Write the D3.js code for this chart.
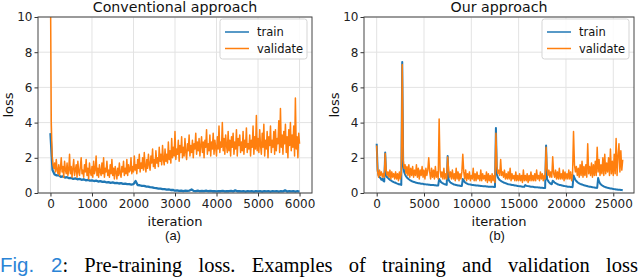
<!DOCTYPE html>
<html><head><meta charset="utf-8">
<script src="https://cdn.jsdelivr.net/npm/d3@7"></script>
<style>
html,body{margin:0;padding:0;background:#fff;}
svg{display:block;}
</style></head><body>
<svg id="c" width="640" height="278"></svg>
<script>
// ---------- data ----------
const panelTitles = ["Conventional approach", "Our approach"];
const panelLetters = ["(a)", "(b)"];
const seriesNames = ["train", "validate"];
const yTicks = [0, 2, 4, 6, 8, 10];
const xTicksA = [0, 1000, 2000, 3000, 4000, 5000, 6000];
const xTicksB = [0, 5000, 10000, 15000, 20000, 25000];
const axisLabelX = "iteration";
const axisLabelY = "loss";

// (a) conventional: train sampled every 50 iterations
const stepTrainA = 50;
const trainA = [
  3.4, 1.3, 1.05, 1.0, 1.0, 0.92, 0.95, 0.88, 0.9, 0.84,
  0.86, 0.8, 0.83, 0.78, 0.8, 0.75, 0.78, 0.72, 0.75, 0.7,
  0.72, 0.68, 0.7, 0.65, 0.68, 0.63, 0.65, 0.6, 0.62, 0.58,
  0.6, 0.56, 0.58, 0.54, 0.56, 0.52, 0.53, 0.5, 0.51, 0.48,
  0.5, 0.68, 0.45, 0.44, 0.41, 0.4, 0.37, 0.36, 0.33, 0.32,
  0.29, 0.28, 0.25, 0.25, 0.22, 0.22, 0.19, 0.2, 0.17, 0.18,
  0.13, 0.15, 0.12, 0.14, 0.11, 0.13, 0.12, 0.14, 0.2, 0.12,
  0.11, 0.13, 0.1, 0.12, 0.11, 0.13, 0.1, 0.12, 0.1, 0.11,
  0.09, 0.11, 0.1, 0.12, 0.09, 0.11, 0.1, 0.12, 0.09, 0.15,
  0.1, 0.11, 0.09, 0.1, 0.08, 0.11, 0.09, 0.1, 0.08, 0.11,
  0.09, 0.1, 0.08, 0.11, 0.09, 0.1, 0.08, 0.1, 0.09, 0.11,
  0.08, 0.1, 0.09, 0.15, 0.08, 0.1, 0.09, 0.11, 0.08, 0.1,
  0.08
];
// (a) conventional: validate sampled every 20 iterations
const stepValA = 20;
const validateA = [
  12, 4.0, 2.2, 1.6, 1.4, 1.7, 1.2, 1.9, 1.3, 1.1,
  1.6, 1.0, 1.4, 2.0, 1.2, 1.5, 0.9, 1.8, 1.3, 1.1,
  1.7, 1.0, 1.3, 2.2, 1.1, 1.5, 0.9, 1.4, 1.9, 1.0,
  1.3, 1.6, 0.9, 1.8, 1.2, 1.0, 1.5, 2.0, 1.1, 1.3,
  0.9, 1.6, 1.2, 1.9, 1.0, 1.4, 0.8, 1.7, 1.2, 1.0,
  1.5, 0.9, 1.8, 1.1, 1.3, 2.1, 1.0, 1.4, 0.9, 1.6,
  1.2, 1.0, 1.7, 1.1, 2.0, 0.9, 1.4, 1.2, 1.8, 1.0,
  1.3, 0.9, 1.6, 1.1, 1.9, 1.0, 1.4, 0.8, 1.5, 1.2,
  0.8, 1.4, 1.0, 1.7, 1.1, 0.9, 1.5, 1.2, 1.8, 1.0,
  1.4, 1.1, 1.9, 1.0, 1.6, 1.2, 1.3, 2.0, 1.1, 1.5,
  1.2, 2.1, 1.3, 1.6, 1.1, 1.9, 1.4, 2.2, 1.2, 1.7,
  1.4, 2.0, 1.3, 2.3, 1.5, 1.2, 1.9, 1.4, 2.2, 1.6,
  1.3, 2.1, 1.7, 2.5, 1.5, 1.9, 1.4, 2.4, 1.7, 2.0,
  1.5, 2.6, 1.8, 2.2, 1.6, 2.7, 1.9, 1.6, 2.5, 1.8,
  2.2, 1.7, 2.9, 1.9, 2.4, 1.7, 3.1, 2.0, 2.6, 2.1,
  3.5, 1.9, 2.5, 2.2, 3.0, 1.8, 2.7, 2.3, 3.2, 2.0,
  2.6, 2.1, 3.1, 2.3, 1.9, 2.8, 2.4, 3.3, 2.1, 2.7,
  2.3, 3.0, 2.0, 2.8, 2.5, 3.4, 2.2, 2.9, 2.4, 3.1,
  2.1, 2.7, 3.2, 2.3, 2.9, 2.0, 3.0, 2.6, 3.6, 2.2,
  2.8, 2.4, 3.3, 2.1, 2.9, 2.5, 3.4, 2.2, 3.0, 2.6,
  2.1, 3.2, 2.5, 3.8, 2.3, 2.9, 2.6, 4.0, 2.4, 3.1,
  2.2, 3.3, 2.7, 2.3, 3.5, 2.4, 3.0, 2.1, 3.2, 2.6,
  3.4, 2.2, 2.9, 2.5, 3.6, 2.1, 3.1, 2.7, 3.3, 2.3,
  2.9, 2.4, 3.5, 2.2, 3.0, 2.6, 3.7, 2.3, 2.8, 2.5,
  3.3, 2.1, 3.0, 2.6, 3.8, 2.2, 3.2, 2.5, 4.4, 2.4,
  3.1, 2.3, 3.6, 2.7, 2.2, 3.4, 2.6, 3.9, 2.1, 3.0,
  2.5, 3.5, 2.0, 3.2, 2.7, 3.8, 2.3, 3.0, 2.6, 3.5,
  2.2, 3.6, 2.4, 3.1, 2.8, 4.1, 2.3, 4.8, 2.6, 3.3,
  2.2, 3.5, 2.8, 3.9, 2.3, 3.2, 2.0, 3.6, 2.7, 4.0,
  2.4, 3.3, 2.6, 3.8, 2.1, 5.4, 2.5, 3.2, 2.0, 3.4,
  2.8
];
// (b) our approach: both sampled every 100 iterations
const stepB = 100;
const trainB = [
  2.8, 1.3, 1.0, 0.9, 0.85, 0.75, 0.8, 0.7, 0.65, 2.3,
  1.0, 0.9, 0.85, 0.8, 0.75, 0.72, 0.68, 0.65, 0.62, 0.6,
  0.58, 0.55, 0.53, 0.5, 0.5, 0.48, 0.46, 7.45, 1.6, 1.2,
  1.05, 0.95, 0.88, 0.82, 0.78, 0.74, 0.7, 0.68, 0.65, 0.63,
  0.62, 0.6, 0.58, 0.57, 0.56, 0.55, 0.54, 0.53, 0.52, 0.52,
  0.5, 0.5, 0.49, 0.48, 0.48, 0.47, 0.47, 0.46, 0.46, 0.45,
  0.45, 0.44, 0.44, 0.43, 0.43, 0.42, 0.8, 0.7, 0.62, 0.58,
  0.55, 0.52, 0.5, 0.48, 0.46, 2.1, 0.75, 0.65, 0.6, 0.56,
  0.53, 0.5, 0.48, 0.47, 0.45, 0.44, 0.43, 0.42, 0.41, 0.4,
  0.4, 0.8, 0.7, 0.62, 0.58, 0.55, 0.52, 0.5, 0.49, 0.48,
  0.47, 0.46, 0.45, 0.44, 0.44, 0.43, 0.42, 0.42, 0.41, 0.41,
  0.4, 0.4, 0.39, 0.39, 0.38, 0.38, 0.37, 0.37, 0.36, 0.36,
  0.36, 0.35, 0.35, 0.35, 0.34, 0.34, 3.7, 1.1, 0.9, 0.8,
  0.74, 0.7, 0.66, 0.63, 0.6, 0.58, 0.56, 0.54, 0.52, 0.5,
  0.49, 0.48, 0.47, 0.46, 0.45, 0.44, 0.43, 0.42, 0.41, 0.4,
  0.39, 0.38, 0.38, 0.37, 0.36, 0.36, 0.35, 0.45, 0.42, 0.4,
  0.39, 0.38, 0.37, 0.36, 0.35, 0.35, 0.34, 0.33, 0.33, 0.32,
  0.32, 0.31, 0.31, 0.3, 0.3, 0.3, 0.29, 0.29, 0.28, 2.7,
  0.8, 0.7, 0.62, 0.56, 0.52, 0.5, 0.7, 0.65, 0.6, 0.56,
  0.53, 0.5, 0.48, 0.46, 0.45, 0.44, 0.42, 0.41, 0.4, 0.39,
  0.38, 0.37, 0.36, 0.36, 0.35, 0.34, 0.34, 0.33, 1.0, 0.85,
  0.75, 0.68, 0.62, 0.58, 0.55, 0.52, 0.5, 0.48, 0.46, 0.44,
  0.42, 0.41, 0.4, 0.38, 0.37, 0.36, 0.35, 0.34, 0.33, 0.32,
  0.31, 0.3, 0.3, 0.29, 0.85, 0.65, 0.55, 0.48, 0.44, 0.4,
  0.37, 0.35, 0.33, 0.31, 0.3, 0.28, 0.27, 0.26, 0.25, 0.24,
  0.23, 0.22, 0.21, 0.2, 0.2, 0.19, 0.18, 0.18, 0.17, 0.17,
  0.16
];
const validateB = [
  2.7, 1.2, 0.9, 1.3, 1.0, 1.2, 0.9, 1.1, 0.9, 2.25,
  1.3, 1.0, 1.2, 0.9, 1.3, 0.8, 1.2, 0.9, 1.1, 0.8,
  1.2, 0.8, 1.1, 0.7, 1.2, 0.8, 1.1, 7.3, 1.9, 1.4,
  1.6, 1.1, 1.5, 1.0, 1.6, 0.9, 1.4, 1.0, 1.5, 0.9,
  1.3, 1.0, 1.6, 0.9, 1.4, 0.8, 1.3, 1.0, 1.5, 0.9,
  1.3, 0.8, 1.4, 1.0, 1.3, 2.0, 1.2, 0.8, 1.4, 0.9,
  1.3, 0.8, 1.5, 0.9, 1.2, 0.8, 4.2, 1.3, 0.9, 1.2,
  0.8, 1.4, 0.8, 1.1, 0.8, 2.05, 1.3, 0.9, 1.2, 0.8,
  1.3, 0.8, 1.1, 0.7, 1.4, 0.8, 1.2, 0.7, 1.1, 0.8,
  1.2, 2.2, 1.2, 0.8, 1.3, 0.7, 1.1, 0.8, 1.2, 0.7,
  1.0, 0.8, 1.4, 0.7, 1.1, 0.7, 1.2, 0.8, 1.0, 0.7,
  1.3, 0.7, 1.1, 0.8, 1.0, 0.7, 1.2, 0.6, 1.1, 0.7,
  1.0, 0.6, 1.1, 0.7, 1.0, 0.6, 3.4, 1.5, 1.1, 1.3,
  1.0, 1.9, 1.0, 1.2, 0.9, 1.3, 0.8, 1.1, 0.8, 1.2,
  0.8, 1.4, 0.7, 1.1, 0.8, 1.0, 0.7, 1.2, 0.7, 1.0,
  0.7, 1.1, 0.7, 1.0, 0.6, 1.3, 0.7, 1.0, 0.7, 1.1,
  0.6, 1.0, 0.7, 1.2, 0.7, 1.0, 0.7, 1.1, 0.7, 1.3,
  0.8, 1.0, 0.7, 1.2, 0.8, 1.1, 0.7, 1.0, 0.8, 2.6,
  1.4, 1.0, 1.3, 0.9, 1.2, 0.9, 2.06, 1.1, 0.9, 1.3,
  0.8, 1.2, 0.8, 1.4, 0.8, 1.1, 0.8, 1.3, 0.7, 1.2,
  0.8, 1.1, 0.8, 1.3, 0.8, 1.2, 0.7, 1.1, 3.5, 1.6,
  1.2, 1.5, 1.0, 1.4, 0.9, 1.6, 1.0, 1.8, 0.9, 1.5,
  1.0, 1.6, 0.9, 2.8, 1.1, 1.5, 1.0, 1.7, 0.9, 1.6,
  1.0, 1.8, 1.0, 2.6, 1.2, 1.9, 1.0, 1.6, 1.1, 2.0,
  1.0, 2.2, 1.1, 1.7, 1.2, 2.0, 1.0, 2.5, 1.1, 1.8,
  1.0, 2.2, 1.1, 3.1, 1.0, 2.1, 2.8, 1.2, 2.4, 1.3,
  1.9
];
const captionLabel = "Fig. 2";
const captionText = ": Pre-training loss. Examples of training and validation loss";

// ---------- layout / style ----------
const COLORS = ["#1f77b4", "#ff7f0e"];
const TOP = 17, BOTTOM = 193;
const panels = [
  { left: 38, right: 312, xDomain: [-300, 6300], xTicks: xTicksA,
    train: trainA, trainStep: stepTrainA, val: validateA, valStep: stepValA,
    title: panelTitles[0], letter: panelLetters[0], trainWidth: 2.3 },
  { left: 364, right: 634, xDomain: [-1340, 27190], xTicks: xTicksB,
    train: trainB, trainStep: stepB, val: validateB, valStep: stepB,
    title: panelTitles[1], letter: panelLetters[1], trainWidth: 2.0 }
];

const svg = d3.select("#c");
const MPL = "DejaVu Sans, sans-serif";

panels.forEach((p, k) => {
  const g = svg.append("g");
  const x = d3.scaleLinear().domain(p.xDomain).range([p.left, p.right]);
  const y = d3.scaleLinear().domain([0, 10]).range([BOTTOM, TOP]);
  const cx = (p.left + p.right) / 2;

  // grid
  g.append("g").selectAll("line").data(p.xTicks).join("line")
    .attr("x1", d => x(d)).attr("x2", d => x(d)).attr("y1", TOP).attr("y2", BOTTOM)
    .attr("stroke", "#e3e3e3").attr("stroke-width", 1);
  g.append("g").selectAll("line").data(yTicks).join("line")
    .attr("x1", p.left).attr("x2", p.right).attr("y1", d => y(d)).attr("y2", d => y(d))
    .attr("stroke", "#e3e3e3").attr("stroke-width", 1);

  // clip
  const cid = "clip" + k;
  svg.append("clipPath").attr("id", cid).append("rect")
    .attr("x", p.left).attr("y", TOP).attr("width", p.right - p.left).attr("height", BOTTOM - TOP);

  const line = d3.line().x(d => x(d[0])).y(d => y(d[1]));
  const tr = p.train.map((v, i) => [i * p.trainStep, v]);
  const va = p.val.map((v, i) => [i * p.valStep, v]);
  const lg = g.append("g").attr("clip-path", `url(#${cid})`);
  lg.append("path").attr("d", line(tr)).attr("fill", "none")
    .attr("stroke", COLORS[0]).attr("stroke-width", p.trainWidth).attr("stroke-linejoin", "round");
  lg.append("path").attr("d", line(va)).attr("fill", "none")
    .attr("stroke", COLORS[1]).attr("stroke-width", 1.5).attr("stroke-linejoin", "round");

  // axes
  const ax = g.append("g").attr("transform", `translate(0,${BOTTOM})`)
    .call(d3.axisBottom(x).tickValues(p.xTicks).tickFormat(d3.format("d")).tickSize(3.5).tickPadding(3));
  const ay = g.append("g").attr("transform", `translate(${p.left},0)`)
    .call(d3.axisLeft(y).tickValues(yTicks).tickFormat(d3.format("d")).tickSize(3.5).tickPadding(2));
  [ax, ay].forEach(a => {
    a.select(".domain").remove();
    a.selectAll("line").attr("stroke", "#333");
    a.selectAll("text").attr("font-family", MPL).attr("font-size", 12).attr("fill", "#222");
  });

  // frame
  g.append("rect").attr("x", p.left).attr("y", TOP)
    .attr("width", p.right - p.left).attr("height", BOTTOM - TOP)
    .attr("fill", "none").attr("stroke", "#444").attr("stroke-width", 1);

  // title
  g.append("text").attr("x", cx).attr("y", 12).attr("text-anchor", "middle")
    .attr("font-family", MPL).attr("font-size", 14.2).attr("fill", "#111").text(p.title);
  // axis labels
  g.append("text").attr("x", cx).attr("y", 226).attr("text-anchor", "middle")
    .attr("font-family", MPL).attr("font-size", 13).attr("fill", "#111").text(axisLabelX);
  g.append("text").attr("transform", `translate(${p.left - 25},${(TOP + BOTTOM) / 2}) rotate(-90)`)
    .attr("text-anchor", "middle").attr("font-family", MPL).attr("font-size", 13)
    .attr("fill", "#111").text(axisLabelY);
  // sub-letter
  g.append("text").attr("x", cx - 2).attr("y", 240).attr("text-anchor", "middle")
    .attr("font-family", "Liberation Sans, Arial, sans-serif").attr("font-size", 13)
    .attr("fill", "#111").text(p.letter);

  // legend
  const lw = 87, lh = 40, lx = p.right - lw - 5, ly = TOP + 2;
  const leg = g.append("g");
  leg.append("rect").attr("x", lx).attr("y", ly).attr("width", lw).attr("height", lh)
    .attr("rx", 2.5).attr("fill", "#fff").attr("fill-opacity", 0.85)
    .attr("stroke", "#d5d5d5").attr("stroke-width", 1);
  seriesNames.forEach((name, j) => {
    const yy = ly + 13 + j * 16.5;
    leg.append("line").attr("x1", lx + 5).attr("x2", lx + 29).attr("y1", yy).attr("y2", yy)
      .attr("stroke", COLORS[j]).attr("stroke-width", 1.5);
    leg.append("text").attr("x", lx + 37).attr("y", yy + 4).attr("font-family", MPL)
      .attr("font-size", 11.5).attr("fill", "#111").text(name);
  });
});

// caption (justified to the full width)
const cap = svg.append("text").attr("x", 0).attr("y", 271.5).attr("font-size", 20.5);
cap.append("tspan").attr("font-family", "Liberation Sans, Arial, sans-serif")
  .attr("fill", "#2a84d6").text(captionLabel);
cap.append("tspan").attr("font-family", "Liberation Serif, Times New Roman, serif")
  .attr("fill", "#000").text(captionText);
const full = (captionLabel + captionText);
const nSpaces = (full.match(/ /g) || []).length;
const len = cap.node().getComputedTextLength();
cap.attr("word-spacing", Math.max(0, (638 - len) / nSpaces));
</script>
</body></html>
